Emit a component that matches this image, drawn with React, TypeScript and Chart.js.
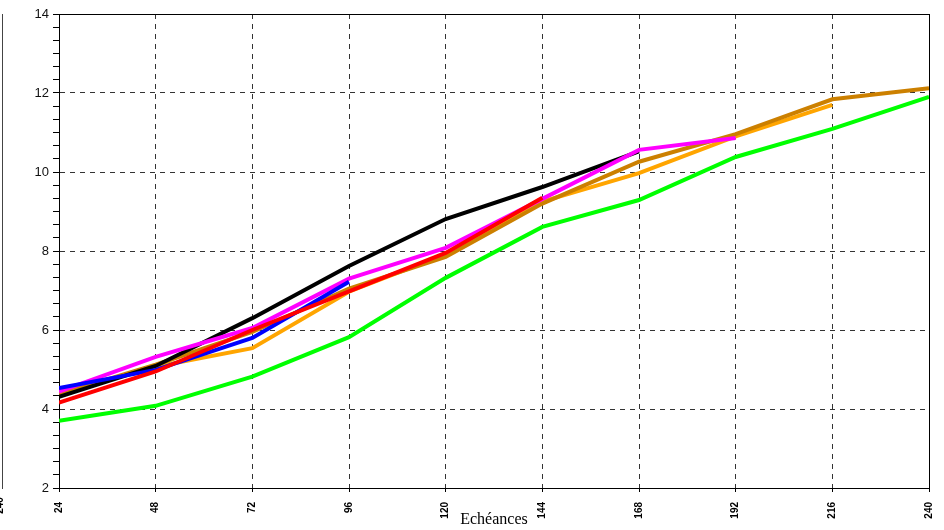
import React, { useEffect, useRef } from "react";
import { Chart, registerables } from "chart.js";

Chart.register(...registerables);

// Forecast lead times (hours)
const hours = [24, 48, 72, 96, 120, 144, 168, 192, 216, 240];

// Scores per model run, null where the run stops
const redRun = [4.16, 4.95, 6.0, 6.98, 7.95, 9.35, null, null, null, null];
const blueRun = [4.53, 4.99, 5.8, 7.22, null, null, null, null, null, null];
const magentaRun = [4.44, 5.32, 6.05, 7.3, 8.08, 9.32, 10.56, 10.86, null, null];
const blackRun = [4.31, 5.09, 6.3, 7.62, 8.81, 9.62, 10.52, null, null, null];
const brownRun = [4.38, 5.12, 5.95, 7.05, 7.85, 9.2, 10.26, 10.96, 11.84, 12.12];
const orangeRun = [4.41, 5.07, 5.54, 6.97, 7.92, 9.25, 9.97, 10.9, 11.7, null];
const greenRun = [3.7, 4.08, 4.82, 5.82, 7.32, 8.61, 9.29, 10.38, 11.09, 11.9];

// Y axis: labelled every 2, minor ticks every third of a unit
const yMin = 2;
const yMax = 14;
const yLabelStep = 2;
const yMinorPerUnit = 3;

const series = [
  { data: redRun, color: "#ff0000" },
  { data: blueRun, color: "#0000ff" },
  { data: magentaRun, color: "#ff00ff" },
  { data: blackRun, color: "#000000" },
  { data: brownRun, color: "#cc8000" },
  { data: orangeRun, color: "#ffa500" },
  { data: greenRun, color: "#00ff00" },
];

const isLabelled = (v: number) =>
  Math.abs(v - Math.round(v)) < 1e-6 && Math.round(v) % yLabelStep === 0;

const framePlugin = {
  id: "frame",
  beforeDatasetsDraw(chart: any) {
    const { ctx, chartArea } = chart;
    const { left, top, right, bottom } = chartArea;
    ctx.save();
    ctx.strokeStyle = "#000";
    ctx.lineWidth = 1;
    ctx.strokeRect(Math.round(left) + 0.5, Math.round(top) + 0.5, Math.round(right - left), Math.round(bottom - top));
    ctx.restore();
  },
};

export default function App() {
  const canvasRef = useRef<HTMLCanvasElement | null>(null);

  useEffect(() => {
    if (!canvasRef.current) return;
    const yTicks: { value: number }[] = [];
    for (let i = 0; i <= (yMax - yMin) * yMinorPerUnit; i++) {
      yTicks.push({ value: yMin + i / yMinorPerUnit });
    }

    const chart = new Chart(canvasRef.current, {
      type: "line",
      data: {
        datasets: series.map((s) => ({
          data: s.data.map((v, i) => ({ x: hours[i], y: v })),
          borderColor: s.color,
          backgroundColor: s.color,
          borderWidth: 4,
          pointRadius: 0,
          tension: 0,
          spanGaps: false,
        })),
      },
      options: {
        animation: false,
        responsive: true,
        maintainAspectRatio: false,
        layout: { padding: { top: 14, right: 15, left: 0, bottom: 0 } },
        plugins: { legend: { display: false }, tooltip: { enabled: false } },
        scales: {
          x: {
            type: "linear",
            min: hours[0],
            max: hours[hours.length - 1],
            afterBuildTicks: (s: any) => {
              s.ticks = hours.map((h) => ({ value: h }));
            },
            afterFit: (s: any) => {
              s.height = 42;
              s.paddingLeft = 0;
              s.paddingRight = 0;
            },
            ticks: {
              autoSkip: false,
              maxRotation: 90,
              minRotation: 90,
              padding: 10,
              color: "#000",
              font: { family: "'Liberation Sans', Arial, sans-serif", size: 10, weight: "bold" },
              callback: (v: any) => String(v),
            },
            grid: { color: "#333", lineWidth: 1, tickLength: 4, tickColor: "#000" },
            border: { color: "#000", dash: [5, 5] },
            title: {
              display: true,
              text: "Echéances",
              color: "#000",
              font: { family: "'Liberation Serif', 'Times New Roman', serif", size: 16 },
              padding: { top: 0, bottom: 1 },
            },
          },
          y: {
            type: "linear",
            min: yMin,
            max: yMax,
            afterBuildTicks: (s: any) => {
              s.ticks = yTicks.map((t) => ({ ...t }));
            },
            afterFit: (s: any) => {
              s.width = 59;
              s.paddingTop = 0;
              s.paddingBottom = 0;
            },
            ticks: {
              autoSkip: false,
              padding: 4,
              color: "#111",
              font: { family: "'Liberation Sans', Arial, sans-serif", size: 13 },
              callback: (v: any) => (isLabelled(Number(v)) ? String(Math.round(Number(v))) : ""),
            },
            grid: {
              color: (ctx: any) => (ctx.tick && isLabelled(ctx.tick.value) ? "#333" : "rgba(0,0,0,0)"),
              tickColor: "#000",
              tickLength: 6,
              lineWidth: 1,
            },
            border: { color: "#000", dash: [5, 5] },
          },
        },
      },
      plugins: [framePlugin],
    } as any);

    return () => chart.destroy();
  }, []);

  return (
    <div style={{ position: "fixed", left: 0, top: 0, width: 944, height: 530, background: "#fff", overflow: "hidden" }}>
      {/* edge of the neighbouring panel */}
      <div style={{ position: "absolute", left: 2, top: 14, width: 1, height: 475, background: "#444" }} />
      <span
        style={{
          position: "absolute",
          left: -9,
          top: 500,
          font: "bold 10px 'Liberation Sans', Arial, sans-serif",
          transform: "rotate(-90deg)",
          color: "#000",
        }}
      >
        240
      </span>
      <canvas ref={canvasRef} />
    </div>
  );
}
